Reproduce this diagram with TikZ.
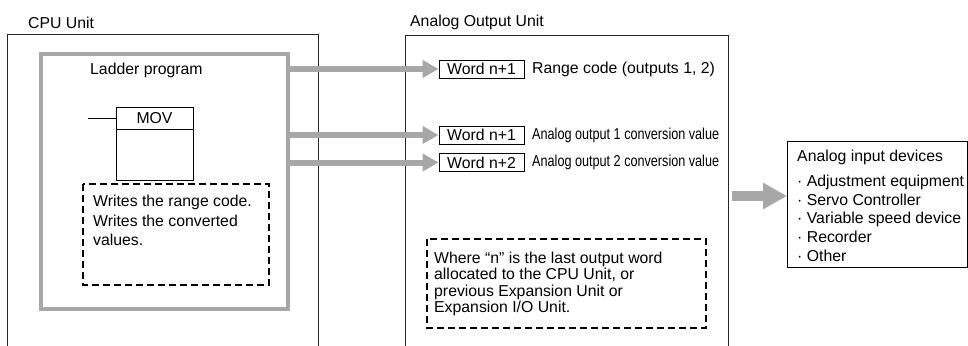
\documentclass[tikz,border=0pt]{standalone}
\usepackage{fontspec}
\setmainfont{Liberation Sans}
\newfontfamily\narrowfont{Liberation Sans}[FakeStretch=0.8]
\usetikzlibrary{arrows.meta}
\definecolor{lgray}{HTML}{A7A7A7}
\begin{document}
\begin{tikzpicture}[x=1pt,y=-1pt,
  font=\fontsize{15.8}{19.5}\selectfont,
  unitline/.style={draw=black!85, line width=1pt},
  ladderbox/.style={draw=lgray, line width=4pt, inner sep=0pt, anchor=north west},
  wordbox/.style={draw=black, line width=0.9pt, minimum width=85pt, minimum height=18pt, inner sep=0pt},
  notebox/.style={draw=black, line width=1.8pt, dash pattern=on 7pt off 4pt},
  txt/.style={inner sep=0pt, anchor=north west, align=left},
  lbl/.style={inner sep=0pt, anchor=west},
  feed/.style={draw=lgray, line width=6pt, -{Triangle[length=16pt,width=17pt]}},
  bigfeed/.style={draw=lgray, line width=10pt, -{Triangle[length=24pt,width=25pt]}},
  thinbox/.style={draw=black, line width=0.9pt, inner sep=0pt, anchor=north west}]
\useasboundingbox (0,0) rectangle (968,345);
% CPU Unit
\node[txt] (cpulbl) at (28,16.5) {CPU Unit};
\draw[unitline] (7,347) -- (7,35) -- (318,35) -- (318,347);
\node[ladderbox, minimum width=247pt, minimum height=255pt] (ladder) at (39,52) {};
\node[txt] (ladlbl) at (90,63) {Ladder program};
\node[thinbox, minimum width=77pt, minimum height=73pt] (mov) at (116,107) {};
\draw[line width=0.9pt] (116,129) -- (193,129);
\node[inner sep=0pt] (movt) at (154.5,118) {MOV};
\coordinate (rung) at (88,118.5);
\draw[line width=0.9pt] (rung) -- (rung -| mov.west);
\draw[notebox] (83,184) rectangle (269,285);
\node[txt] (note1) at (93,195) {Writes the range code.\\Writes the converted\\values.};
% Analog Output Unit
\node[txt] (aolbl) at (410,15) {Analog Output Unit};
\draw[unitline] (405,347) -- (405,36) -- (728,36) -- (728,347);
\node[wordbox] (w1) at (481.5,69) {Word n+1};
\node[wordbox] (w2) at (481.5,135) {Word n+1};
\node[wordbox] (w3) at (481.5,162.5) {Word n+2};
\node[lbl] (l1) at (532,69) {Range code (outputs 1, 2)};
\node[lbl] (l2) at (532,135) {\narrowfont Analog output 1 conversion value};
\node[lbl] (l3) at (532,162.5) {\narrowfont Analog output 2 conversion value};
\draw[notebox] (427,239) rectangle (706,328);
\node[txt, font=\fontsize{15.8}{16.3}\selectfont] (note2) at (434,252) {Where “n” is the last output word\\allocated to the CPU Unit, or\\previous Expansion Unit or\\Expansion I/O Unit.};
% connectors
\draw[feed] (ladder.east |- w1.west) -- (w1.west);
\draw[feed] (ladder.east |- w2.west) -- (w2.west);
\draw[feed] (ladder.east |- w3.west) -- (w3.west);
% devices
\node[thinbox, minimum width=180pt, minimum height=126pt] (dev) at (787,141) {};
\node[txt, font=\fontsize{15.8}{18.75}\selectfont] (devt) at (797,150) {Analog input devices\\[6pt]· Adjustment equipment\\· Servo Controller\\· Variable speed device\\· Recorder\\· Other};
\coordinate (aoe) at (732,196);
\draw[bigfeed] (aoe) -- (dev.west |- aoe);
\end{tikzpicture}
\end{document}
